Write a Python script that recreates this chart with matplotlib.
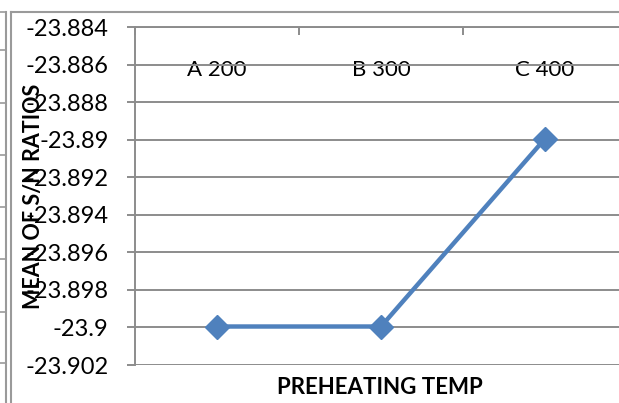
import matplotlib.pyplot as plt
from matplotlib.lines import Line2D
from matplotlib.ticker import FixedLocator, FuncFormatter

# data
categories = ['A 200', 'B 300', 'C 400']
sn_means = [-23.89995, -23.89995, -23.88995]
y_ticks = [-23.884, -23.886, -23.888, -23.89, -23.892, -23.894,
           -23.896, -23.898, -23.9, -23.902]

W, H = 619, 403
fig = plt.figure(figsize=(W / 100, H / 100), dpi=100)
plt.rcParams['font.family'] = ['Lato', 'DejaVu Sans']

# plot area runs past the right edge of the picture, like the cropped original
ax = fig.add_axes([135 / W, 1 - 365 / H, (627 - 135) / W, (365 - 27) / H])

grid_col = '#8c8c8c'
x = list(range(len(categories)))
ax.plot(x, sn_means, color='#4f81bd', linewidth=3.2, marker='D', markersize=12,
        zorder=3, clip_on=False)

ax.set_xlim(-0.5, len(categories) - 0.5)
ax.set_ylim(-23.902, -23.884)
ax.yaxis.set_major_locator(FixedLocator(y_ticks))
ax.yaxis.set_major_formatter(FuncFormatter(lambda v, p: f'{v:.3f}'.rstrip('0').rstrip('.')))
ax.grid(axis='y', color=grid_col, linewidth=1.4)
ax.set_axisbelow(True)

# category axis sits at the top (values are negative), labels hang below it
ax.spines['bottom'].set_position(('axes', 1.0))
ax.spines['bottom'].set_color(grid_col)
ax.spines['bottom'].set_linewidth(1.4)
ax.spines['top'].set_visible(False)
ax.spines['right'].set_visible(False)
ax.spines['left'].set_color(grid_col)
ax.spines['left'].set_linewidth(1.4)

ax.set_xticks([i + 0.5 for i in x[:-1]] + [-0.5])
ax.set_xticklabels([])
ax.set_xticks(x, minor=True)
ax.set_xticklabels(categories, minor=True)
ax.tick_params(axis='x', which='major', direction='out', length=6,
               color=grid_col, width=1.4)
ax.tick_params(axis='x', which='minor', length=0, pad=24, labelsize=16)
ax.tick_params(axis='y', direction='out', length=6, color=grid_col,
               width=1.4, labelsize=17, pad=13)

fig.text(380 / W, 1 - 387 / H, 'PREHEATING TEMP', ha='center', va='center',
         fontsize=16, fontweight='bold')
fig.text(34 / W, 1 - 196 / H, 'MEAN OF S/N RATIOS', ha='center', va='center',
         rotation=90, fontsize=15.5, fontweight='bold')

# surrounding table borders from the source document
border = '#9a9a9a'
def fline(xs, ys, lw=1.5):
    fig.add_artist(Line2D([v / W for v in xs], [1 - v / H for v in ys],
                          color=border, linewidth=lw))

fline([11, W], [12, 12])
fline([11, 11], [12, H])
fline([5.5, 5.5], [12, H])
for yy in [12, 50, 103, 155, 207, 259, 312, 363]:
    fline([0, 5.5], [yy, yy], lw=1.2)

fig.savefig('out.png', dpi=100)
